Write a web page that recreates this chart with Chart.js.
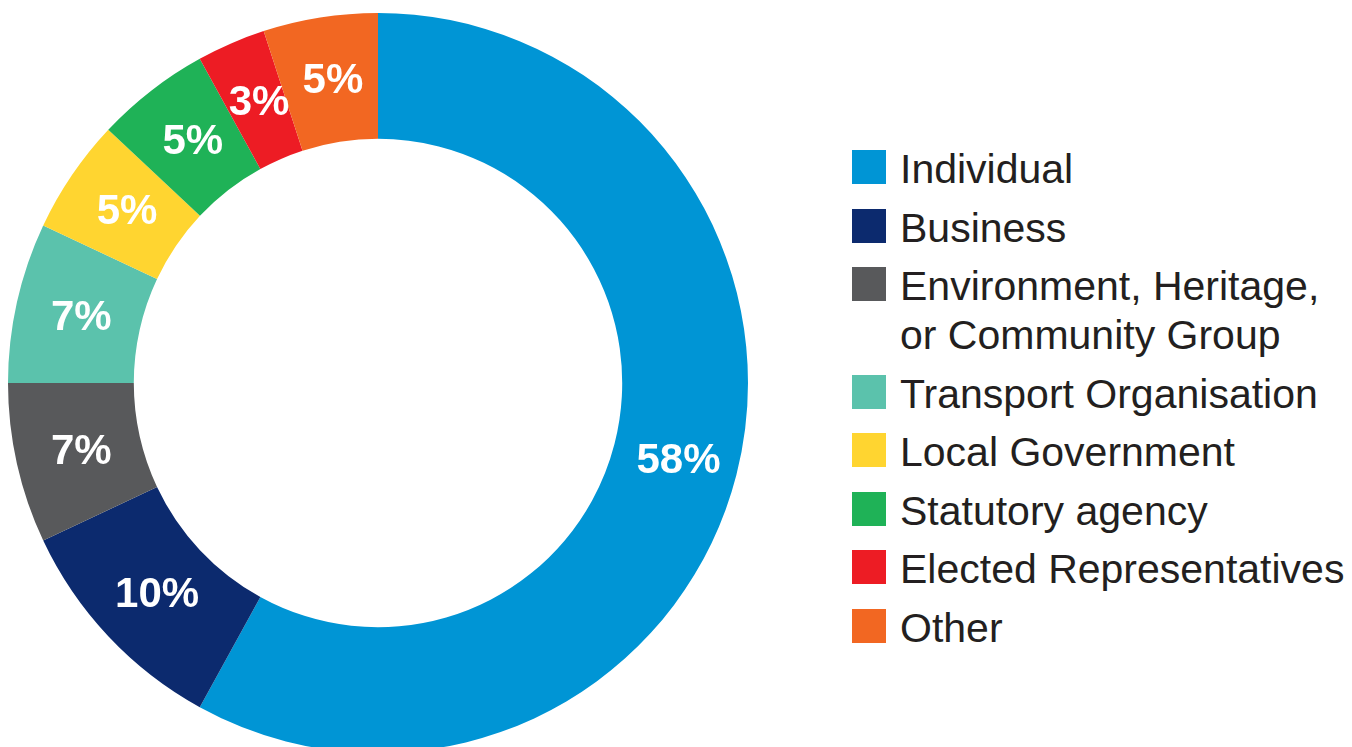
<!DOCTYPE html>
<html>
<head>
<meta charset="utf-8">
<script src="https://cdn.jsdelivr.net/npm/chart.js@4"></script>
<style>
  html, body { margin: 0; padding: 0; background: #fff; overflow: hidden; }
  body { width: 1352px; height: 747px; position: relative; font-family: "Liberation Sans", Arial, sans-serif; }
  #chartBox { position: absolute; left: 8px; top: 13px; width: 740px; height: 740px; }
  #legend { position: absolute; left: 852px; top: 145px; color: #231f20; font-size: 41px; line-height: 49px; }
  .item { position: relative; padding-left: 48px; margin-bottom: 9.5px; white-space: nowrap; }
  .swatch { position: absolute; left: 0; top: 5px; width: 34px; height: 34px; }
</style>
</head>
<body>
<div id="chartBox"><canvas id="donut"></canvas></div>
<div id="legend"></div>
<script>
var categories = ["Individual", "Business", "Environment, Heritage,\nor Community Group", "Transport Organisation",
    "Local Government", "Statutory agency", "Elected Representatives", "Other"];
var shares = [58, 10, 7, 7, 5, 5, 3, 5];
var colors = ["#0095d5", "#0c2a6e", "#58595b", "#5bc2ac", "#ffd530", "#1fb257", "#ed1c24", "#f26722"];

// legend on the right
var legend = document.getElementById('legend');
for (var i = 0; i < categories.length; i++) {
    var item = document.createElement('div');
    item.className = 'item';
    var sw = document.createElement('span');
    sw.className = 'swatch';
    sw.style.background = colors[i];
    item.appendChild(sw);
    var lines = categories[i].split("\n");
    for (var j = 0; j < lines.length; j++) {
        var line = document.createElement('div');
        line.textContent = lines[j];
        item.appendChild(line);
    }
    legend.appendChild(item);
}

// white percentage labels in the middle of each slice
var sliceLabels = {
    id: 'sliceLabels',
    afterDatasetsDraw: function (chart) {
        var ctx = chart.ctx;
        var meta = chart.getDatasetMeta(0);
        ctx.save();
        ctx.fillStyle = '#ffffff';
        ctx.textAlign = 'center';
        ctx.textBaseline = 'middle';
        ctx.font = 'bold 42px "Liberation Sans", Arial, sans-serif';
        meta.data.forEach(function (arc, idx) {
            var pos = arc.tooltipPosition();
            ctx.fillText(shares[idx] + '%', pos.x + 3, pos.y + 2);
        });
        ctx.restore();
    }
};

var ctx = document.getElementById('donut').getContext('2d');
var chart = new Chart(ctx, {
    type: 'doughnut',
    data: {
        labels: categories,
        datasets: [{
            data: shares,
            backgroundColor: colors,
            borderWidth: 0
        }]
    },
    options: {
        responsive: true,
        maintainAspectRatio: false,
        animation: false,
        cutout: '66%',
        layout: { padding: 0 },
        plugins: {
            legend: { display: false },
            tooltip: { enabled: false }
        }
    },
    plugins: [sliceLabels]
});
</script>
</body>
</html>
